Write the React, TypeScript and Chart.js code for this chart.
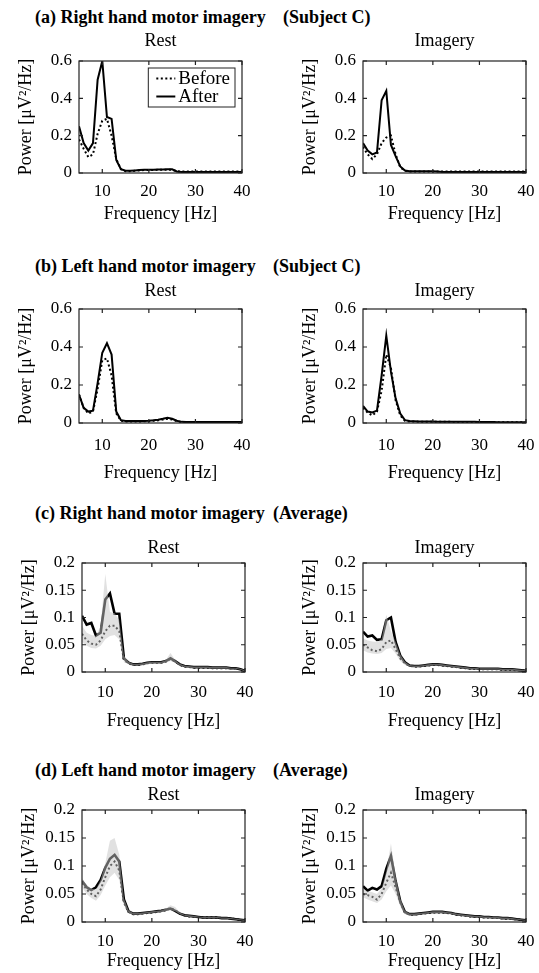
import React, { useEffect, useRef } from "react";
import { Chart, registerables } from "chart.js";

Chart.register(...registerables);

const SERIF = '"Liberation Serif", "Times New Roman", Times, serif';

// ---------------- data ----------------
const FREQ = [5, 6, 7, 8, 9, 10, 11, 12, 13, 14, 15, 16, 17, 18, 19, 20, 21, 22, 23, 24, 25, 26, 27, 28, 29, 30, 31, 32, 33, 34, 35, 36, 37, 38, 39, 40];
const X_TICKS = [10, 20, 30, 40];
const SUBJECT_Y_TICKS = [0, 0.2, 0.4, 0.6];
const AVERAGE_Y_TICKS = [0, 0.05, 0.1, 0.15, 0.2];
const LEGEND_LABELS = ["Before", "After"];
const PANEL_TITLES = ["Rest", "Imagery"];
const SECTION_LABELS = [
  "(a) Right hand motor imagery",
  "(b) Left hand motor imagery",
  "(c) Right hand motor imagery",
  "(d) Left hand motor imagery",
];
const SECTION_GROUPS = ["(Subject C)", "(Subject C)", "(Average)", "(Average)"];
const X_TITLE = "Frequency [Hz]";
const Y_TITLE = "Power [\u03bcV\u00b2/Hz]";

// (a) Right hand, Subject C
const A_REST_AFTER = [0.25, 0.16, 0.12, 0.16, 0.5, 0.6, 0.3, 0.29, 0.07, 0.02, 0.012, 0.012, 0.014, 0.016, 0.018, 0.018, 0.018, 0.019, 0.019, 0.02, 0.02, 0.008, 0.006, 0.005, 0.005, 0.005, 0.005, 0.005, 0.005, 0.005, 0.005, 0.005, 0.005, 0.005, 0.005, 0.005];
const A_REST_BEFORE = [0.18, 0.13, 0.085, 0.1, 0.21, 0.28, 0.29, 0.2, 0.075, 0.02, 0.01, 0.01, 0.012, 0.014, 0.016, 0.016, 0.016, 0.017, 0.018, 0.018, 0.017, 0.01, 0.008, 0.008, 0.008, 0.008, 0.008, 0.008, 0.008, 0.008, 0.008, 0.008, 0.008, 0.008, 0.008, 0.008];
const A_IMAG_AFTER = [0.16, 0.12, 0.1, 0.11, 0.39, 0.44, 0.15, 0.09, 0.035, 0.013, 0.01, 0.01, 0.01, 0.01, 0.01, 0.01, 0.008, 0.006, 0.005, 0.005, 0.005, 0.005, 0.005, 0.005, 0.005, 0.005, 0.005, 0.005, 0.005, 0.005, 0.005, 0.005, 0.005, 0.005, 0.005, 0.005];
const A_IMAG_BEFORE = [0.14, 0.1, 0.075, 0.1, 0.16, 0.19, 0.2, 0.1, 0.03, 0.012, 0.008, 0.008, 0.008, 0.008, 0.008, 0.008, 0.008, 0.008, 0.008, 0.008, 0.008, 0.008, 0.008, 0.008, 0.008, 0.008, 0.008, 0.008, 0.008, 0.008, 0.008, 0.008, 0.008, 0.008, 0.008, 0.008];

// (b) Left hand, Subject C
const B_REST_AFTER = [0.15, 0.08, 0.06, 0.065, 0.21, 0.37, 0.42, 0.36, 0.06, 0.015, 0.01, 0.01, 0.01, 0.01, 0.011, 0.012, 0.014, 0.017, 0.022, 0.028, 0.022, 0.012, 0.006, 0.005, 0.005, 0.005, 0.005, 0.005, 0.005, 0.005, 0.005, 0.005, 0.005, 0.005, 0.005, 0.005];
const B_REST_BEFORE = [0.15, 0.08, 0.05, 0.06, 0.18, 0.33, 0.34, 0.25, 0.05, 0.012, 0.008, 0.008, 0.008, 0.008, 0.009, 0.01, 0.012, 0.014, 0.018, 0.022, 0.018, 0.01, 0.005, 0.004, 0.004, 0.004, 0.004, 0.004, 0.004, 0.004, 0.004, 0.004, 0.004, 0.004, 0.004, 0.004];
const B_IMAG_AFTER = [0.09, 0.06, 0.055, 0.065, 0.25, 0.46, 0.27, 0.13, 0.05, 0.015, 0.01, 0.009, 0.008, 0.008, 0.008, 0.008, 0.007, 0.007, 0.006, 0.006, 0.006, 0.006, 0.006, 0.006, 0.006, 0.005, 0.005, 0.005, 0.005, 0.004, 0.004, 0.004, 0.004, 0.004, 0.004, 0.004];
const B_IMAG_BEFORE = [0.08, 0.055, 0.04, 0.06, 0.17, 0.36, 0.29, 0.12, 0.04, 0.012, 0.008, 0.008, 0.007, 0.007, 0.007, 0.007, 0.006, 0.006, 0.006, 0.006, 0.005, 0.005, 0.005, 0.005, 0.005, 0.005, 0.005, 0.005, 0.005, 0.004, 0.004, 0.004, 0.004, 0.004, 0.004, 0.004];

// (c) Right hand, Average
const C_REST_AFTER = [0.103, 0.087, 0.09, 0.067, 0.072, 0.133, 0.144, 0.107, 0.107, 0.025, 0.017, 0.014, 0.014, 0.015, 0.017, 0.018, 0.018, 0.018, 0.02, 0.025, 0.02, 0.014, 0.011, 0.01, 0.009, 0.009, 0.009, 0.009, 0.008, 0.008, 0.008, 0.008, 0.007, 0.007, 0.005, 0.002];
const C_REST_BEFORE = [0.07, 0.058, 0.052, 0.05, 0.058, 0.075, 0.085, 0.085, 0.075, 0.022, 0.016, 0.013, 0.013, 0.014, 0.016, 0.017, 0.017, 0.017, 0.019, 0.024, 0.019, 0.013, 0.01, 0.009, 0.008, 0.008, 0.008, 0.008, 0.007, 0.007, 0.007, 0.007, 0.007, 0.007, 0.005, 0.002];
const C_REST_LOW = [0.055, 0.048, 0.044, 0.043, 0.048, 0.06, 0.066, 0.068, 0.06, 0.018, 0.014, 0.012, 0.012, 0.013, 0.014, 0.015, 0.015, 0.015, 0.017, 0.02, 0.017, 0.012, 0.009, 0.008, 0.007, 0.007, 0.007, 0.007, 0.006, 0.006, 0.006, 0.006, 0.006, 0.006, 0.004, 0.001];
const C_REST_HIGH = [0.085, 0.072, 0.068, 0.066, 0.085, 0.18, 0.11, 0.108, 0.095, 0.03, 0.019, 0.015, 0.015, 0.016, 0.018, 0.019, 0.019, 0.019, 0.022, 0.035, 0.022, 0.015, 0.012, 0.011, 0.01, 0.01, 0.01, 0.01, 0.009, 0.009, 0.009, 0.009, 0.008, 0.008, 0.006, 0.003];
const C_IMAG_AFTER = [0.074, 0.065, 0.067, 0.059, 0.06, 0.095, 0.1, 0.055, 0.03, 0.018, 0.012, 0.011, 0.011, 0.012, 0.013, 0.014, 0.014, 0.013, 0.012, 0.011, 0.01, 0.009, 0.008, 0.007, 0.007, 0.006, 0.006, 0.006, 0.006, 0.006, 0.005, 0.005, 0.005, 0.004, 0.003, 0.002];
const C_IMAG_BEFORE = [0.05, 0.045, 0.04, 0.038, 0.042, 0.055, 0.058, 0.042, 0.025, 0.016, 0.011, 0.01, 0.01, 0.011, 0.012, 0.013, 0.013, 0.012, 0.011, 0.01, 0.009, 0.008, 0.007, 0.006, 0.006, 0.005, 0.005, 0.005, 0.005, 0.005, 0.004, 0.004, 0.004, 0.003, 0.003, 0.002];
const C_IMAG_LOW = [0.04, 0.036, 0.034, 0.033, 0.035, 0.042, 0.044, 0.034, 0.02, 0.013, 0.01, 0.009, 0.009, 0.01, 0.011, 0.012, 0.012, 0.011, 0.01, 0.009, 0.008, 0.007, 0.006, 0.005, 0.005, 0.004, 0.004, 0.004, 0.004, 0.004, 0.003, 0.003, 0.003, 0.002, 0.002, 0.001];
const C_IMAG_HIGH = [0.062, 0.058, 0.056, 0.055, 0.06, 0.105, 0.075, 0.055, 0.032, 0.019, 0.013, 0.012, 0.012, 0.013, 0.014, 0.015, 0.015, 0.014, 0.013, 0.012, 0.011, 0.01, 0.009, 0.008, 0.008, 0.007, 0.007, 0.007, 0.007, 0.007, 0.006, 0.006, 0.006, 0.005, 0.004, 0.003];

// (d) Left hand, Average
const D_REST_AFTER = [0.073, 0.062, 0.057, 0.062, 0.075, 0.097, 0.113, 0.12, 0.108, 0.04, 0.019, 0.015, 0.015, 0.016, 0.017, 0.018, 0.019, 0.02, 0.022, 0.024, 0.02, 0.015, 0.012, 0.011, 0.01, 0.009, 0.008, 0.008, 0.008, 0.008, 0.007, 0.007, 0.006, 0.005, 0.004, 0.003];
const D_REST_BEFORE = [0.07, 0.058, 0.05, 0.046, 0.058, 0.08, 0.1, 0.108, 0.092, 0.035, 0.018, 0.014, 0.014, 0.015, 0.016, 0.017, 0.018, 0.019, 0.021, 0.025, 0.021, 0.015, 0.012, 0.01, 0.009, 0.009, 0.008, 0.008, 0.008, 0.008, 0.007, 0.007, 0.006, 0.005, 0.004, 0.003];
const D_REST_LOW = [0.062, 0.05, 0.043, 0.038, 0.048, 0.065, 0.08, 0.088, 0.075, 0.03, 0.016, 0.013, 0.013, 0.014, 0.015, 0.016, 0.017, 0.018, 0.019, 0.021, 0.019, 0.014, 0.011, 0.009, 0.008, 0.008, 0.007, 0.007, 0.007, 0.007, 0.006, 0.006, 0.005, 0.004, 0.003, 0.002];
const D_REST_HIGH = [0.078, 0.066, 0.06, 0.058, 0.075, 0.105, 0.145, 0.15, 0.12, 0.042, 0.021, 0.016, 0.016, 0.017, 0.018, 0.019, 0.02, 0.021, 0.024, 0.03, 0.027, 0.017, 0.013, 0.012, 0.011, 0.01, 0.009, 0.009, 0.009, 0.009, 0.008, 0.008, 0.007, 0.006, 0.005, 0.004];
const D_IMAG_AFTER = [0.064, 0.056, 0.061, 0.058, 0.064, 0.095, 0.118, 0.073, 0.037, 0.018, 0.014, 0.014, 0.015, 0.016, 0.017, 0.018, 0.018, 0.018, 0.017, 0.016, 0.014, 0.013, 0.012, 0.011, 0.01, 0.01, 0.009, 0.009, 0.008, 0.008, 0.007, 0.007, 0.006, 0.005, 0.004, 0.003];
const D_IMAG_BEFORE = [0.05, 0.048, 0.045, 0.04, 0.05, 0.07, 0.088, 0.062, 0.035, 0.017, 0.013, 0.013, 0.014, 0.015, 0.016, 0.017, 0.017, 0.017, 0.016, 0.015, 0.013, 0.012, 0.011, 0.01, 0.009, 0.009, 0.008, 0.008, 0.007, 0.007, 0.006, 0.006, 0.005, 0.005, 0.004, 0.003];
const D_IMAG_LOW = [0.044, 0.04, 0.037, 0.034, 0.04, 0.055, 0.065, 0.05, 0.028, 0.014, 0.011, 0.012, 0.013, 0.014, 0.015, 0.016, 0.016, 0.016, 0.015, 0.014, 0.012, 0.011, 0.01, 0.009, 0.008, 0.008, 0.007, 0.007, 0.006, 0.006, 0.005, 0.005, 0.004, 0.004, 0.003, 0.002];
const D_IMAG_HIGH = [0.058, 0.055, 0.053, 0.05, 0.06, 0.09, 0.14, 0.082, 0.042, 0.02, 0.015, 0.015, 0.016, 0.017, 0.018, 0.019, 0.019, 0.019, 0.018, 0.017, 0.015, 0.014, 0.013, 0.012, 0.011, 0.011, 0.01, 0.01, 0.009, 0.009, 0.008, 0.008, 0.007, 0.006, 0.005, 0.004];

// ---------------- layout (page pixels) ----------------
const ROW_LAYOUT = [
  { headerY: 17, titleY: 41, boxTop: 61, boxBottom: 173, tickY: 192, xlabelY: 214, leftBoxL: 79, leftBoxR: 242, groupX: 283 },
  { headerY: 266, titleY: 291, boxTop: 309, boxBottom: 423, tickY: 446, xlabelY: 473, leftBoxL: 79, leftBoxR: 242, groupX: 273 },
  { headerY: 513, titleY: 548, boxTop: 563, boxBottom: 672, tickY: 693, xlabelY: 721, leftBoxL: 82, leftBoxR: 245, groupX: 273 },
  { headerY: 770, titleY: 795, boxTop: 810, boxBottom: 922, tickY: 942, xlabelY: 961, leftBoxL: 82, leftBoxR: 245, groupX: 273 },
];
const RIGHT_BOX_L = 363;
const RIGHT_BOX_R = 526;
const HEADER_X = 35;
const Y_AXIS_W = 68;
const Y_TITLE_GAP = 53;
const PAD_R = 12;
const TITLE_SIZE = 18;
const TICK_SIZE = 17;
const LH = 1.2;

const PANELS = [
  { row: 0, side: 0, after: A_REST_AFTER, before: A_REST_BEFORE, yTicks: SUBJECT_Y_TICKS, legend: true },
  { row: 0, side: 1, after: A_IMAG_AFTER, before: A_IMAG_BEFORE, yTicks: SUBJECT_Y_TICKS },
  { row: 1, side: 0, after: B_REST_AFTER, before: B_REST_BEFORE, yTicks: SUBJECT_Y_TICKS },
  { row: 1, side: 1, after: B_IMAG_AFTER, before: B_IMAG_BEFORE, yTicks: SUBJECT_Y_TICKS },
  { row: 2, side: 0, after: C_REST_AFTER, before: C_REST_BEFORE, low: C_REST_LOW, high: C_REST_HIGH, yTicks: AVERAGE_Y_TICKS },
  { row: 2, side: 1, after: C_IMAG_AFTER, before: C_IMAG_BEFORE, low: C_IMAG_LOW, high: C_IMAG_HIGH, yTicks: AVERAGE_Y_TICKS },
  { row: 3, side: 0, after: D_REST_AFTER, before: D_REST_BEFORE, low: D_REST_LOW, high: D_REST_HIGH, yTicks: AVERAGE_Y_TICKS },
  { row: 3, side: 1, after: D_IMAG_AFTER, before: D_IMAG_BEFORE, low: D_IMAG_LOW, high: D_IMAG_HIGH, yTicks: AVERAGE_Y_TICKS },
];

function geometry(p: any) {
  const L = ROW_LAYOUT[p.row];
  const boxL = p.side === 0 ? L.leftBoxL : RIGHT_BOX_L;
  const boxR = p.side === 0 ? L.leftBoxR : RIGHT_BOX_R;
  const left = boxL - Y_AXIS_W;
  const width = boxR + PAD_R - left;
  const top = Math.round(L.titleY - (TITLE_SIZE * LH) / 2);
  const bottom = Math.round(L.xlabelY + (TITLE_SIZE * LH) / 2);
  return {
    left,
    top,
    width,
    height: bottom - top,
    titlePadB: L.boxTop - top - TITLE_SIZE * LH,
    xAxisH: bottom - L.boxBottom,
    xTickPad: L.tickY - L.boxBottom - (TICK_SIZE * LH) / 2,
    yTitlePad: Y_AXIS_W - Y_TITLE_GAP - (TITLE_SIZE * LH) / 2,
  };
}

const pts = (arr: number[]) => FREQ.map((f, i) => ({ x: f, y: arr[i] }));

const framePlugin = {
  id: "matlabFrame",
  afterDatasetsDraw(chart: any) {
    const { ctx, chartArea: a, scales } = chart;
    ctx.save();
    ctx.strokeStyle = "#222";
    ctx.lineWidth = 1.2;
    ctx.strokeRect(a.left, a.top, a.right - a.left, a.bottom - a.top);
    const tl = 4;
    ctx.beginPath();
    scales.x.ticks.forEach((t: any) => {
      const px = scales.x.getPixelForValue(t.value);
      ctx.moveTo(px, a.bottom);
      ctx.lineTo(px, a.bottom - tl);
      ctx.moveTo(px, a.top);
      ctx.lineTo(px, a.top + tl);
    });
    scales.y.ticks.forEach((t: any) => {
      const py = scales.y.getPixelForValue(t.value);
      ctx.moveTo(a.left, py);
      ctx.lineTo(a.left + tl, py);
      ctx.moveTo(a.right, py);
      ctx.lineTo(a.right - tl, py);
    });
    ctx.stroke();
    ctx.restore();
  },
};

const boxLegendPlugin = {
  id: "boxLegend",
  afterDraw(chart: any, _args: any, opts: any) {
    if (!opts || !opts.show) return;
    const { ctx, chartArea: a } = chart;
    const items = chart.data.datasets.filter((d: any) => LEGEND_LABELS.includes(d.label));
    ctx.save();
    ctx.font = `19px ${SERIF}`;
    const textW = Math.max(...items.map((d: any) => ctx.measureText(d.label).width));
    const lineLen = 19;
    const w = 8 + lineLen + 3 + textW + 5;
    const rowH = 18;
    const h = 3 + rowH * items.length;
    const x0 = a.right - 7 - w;
    const y0 = a.top + 7;
    ctx.fillStyle = "#fff";
    ctx.fillRect(x0, y0, w, h);
    ctx.strokeStyle = "#222";
    ctx.lineWidth = 1;
    ctx.setLineDash([]);
    ctx.strokeRect(x0, y0, w, h);
    items.forEach((d: any, i: number) => {
      const cy = y0 + 1.5 + rowH / 2 + i * rowH;
      ctx.beginPath();
      ctx.strokeStyle = d.borderColor;
      ctx.lineWidth = d.borderWidth;
      ctx.setLineDash(d.borderDash || []);
      ctx.moveTo(x0 + 8, cy);
      ctx.lineTo(x0 + 8 + lineLen, cy);
      ctx.stroke();
      ctx.setLineDash([]);
      ctx.fillStyle = "#000";
      ctx.textBaseline = "middle";
      ctx.textAlign = "left";
      ctx.fillText(d.label, x0 + 8 + lineLen + 3, cy + 1);
    });
    ctx.restore();
  },
};

function buildConfig(p: any) {
  const g = geometry(p);
  const avg = !!p.low;
  const datasets: any[] = [];
  if (p.low && p.high) {
    datasets.push({
      label: "band-high",
      data: pts(p.high),
      borderColor: "rgba(0,0,0,0)",
      borderWidth: 0,
      backgroundColor: "rgba(195,195,195,0.5)",
      pointRadius: 0,
      fill: "+1",
      tension: 0,
    });
    datasets.push({
      label: "band-low",
      data: pts(p.low),
      borderColor: "rgba(0,0,0,0)",
      borderWidth: 0,
      pointRadius: 0,
      fill: false,
      tension: 0,
    });
  }
  datasets.push({
    label: LEGEND_LABELS[0],
    data: pts(p.before),
    borderColor: "#000",
    borderWidth: 2,
    borderDash: [2, 2.5],
    pointRadius: 0,
    fill: false,
    tension: 0,
  });
  datasets.push({
    label: LEGEND_LABELS[1],
    data: pts(p.after),
    borderColor: "#000",
    borderWidth: avg ? 2.6 : 2,
    pointRadius: 0,
    fill: false,
    tension: 0,
  });
  const yTicks = p.yTicks;
  const tickFont = { family: SERIF, size: TICK_SIZE, lineHeight: LH };
  const titleFont = { family: SERIF, size: TITLE_SIZE, lineHeight: LH, weight: "normal" as const };
  return {
    type: "line" as const,
    data: { datasets },
    plugins: [framePlugin, boxLegendPlugin],
    options: {
      animation: false as const,
      responsive: false,
      maintainAspectRatio: false,
      layout: { padding: { left: 0, right: PAD_R, top: 0, bottom: 0 } },
      plugins: {
        legend: { display: false },
        tooltip: { enabled: false },
        title: {
          display: true,
          text: PANEL_TITLES[p.side],
          fullSize: false,
          align: "center" as const,
          color: "#000",
          font: titleFont,
          padding: { top: 0, bottom: g.titlePadB },
        },
        boxLegend: { show: !!p.legend },
      },
      scales: {
        x: {
          type: "linear" as const,
          min: FREQ[0],
          max: X_TICKS[X_TICKS.length - 1],
          afterBuildTicks: (s: any) => {
            s.ticks = X_TICKS.map((v) => ({ value: v }));
          },
          afterFit: (s: any) => {
            s.height = g.xAxisH;
            s.paddingLeft = 0;
            s.paddingRight = 0;
          },
          grid: { display: false, drawTicks: false },
          border: { display: false },
          ticks: {
            padding: g.xTickPad,
            color: "#000",
            font: tickFont,
            maxRotation: 0,
            autoSkip: false,
            callback: (v: any) => String(v),
          },
          title: {
            display: true,
            text: X_TITLE,
            color: "#000",
            font: titleFont,
            padding: { top: 0, bottom: 0 },
          },
        },
        y: {
          type: "linear" as const,
          min: yTicks[0],
          max: yTicks[yTicks.length - 1],
          afterBuildTicks: (s: any) => {
            s.ticks = yTicks.map((v: number) => ({ value: v }));
          },
          afterFit: (s: any) => {
            s.width = Y_AXIS_W;
            s.paddingTop = 0;
            s.paddingBottom = 0;
          },
          grid: { display: false, drawTicks: false },
          border: { display: false },
          ticks: {
            padding: 7,
            color: "#000",
            font: tickFont,
            autoSkip: false,
            callback: (v: any) => String(v),
          },
          title: {
            display: true,
            text: Y_TITLE,
            color: "#000",
            font: titleFont,
            padding: { top: g.yTitlePad, bottom: 0 },
          },
        },
      },
    },
  };
}

function Panel({ p }: { p: any }) {
  const ref = useRef<HTMLCanvasElement | null>(null);
  const g = geometry(p);
  useEffect(() => {
    if (!ref.current) return;
    const chart = new Chart(ref.current, buildConfig(p) as any);
    return () => chart.destroy();
  }, []);
  return (
    <canvas
      ref={ref}
      width={g.width}
      height={g.height}
      style={{ position: "absolute", left: g.left, top: g.top, width: g.width, height: g.height }}
    />
  );
}

export default function App() {
  return (
    <div
      style={{
        position: "absolute",
        left: 0,
        top: 0,
        width: 539,
        height: 973,
        overflow: "hidden",
        background: "#fff",
      }}
    >
      {SECTION_LABELS.map((t, i) => (
        <React.Fragment key={i}>
          <div
            style={{
              position: "absolute",
              left: HEADER_X,
              top: ROW_LAYOUT[i].headerY - 11,
              font: `bold 18px ${SERIF}`,
              lineHeight: "22px",
              whiteSpace: "pre",
              color: "#000",
            }}
          >
            {t}
          </div>
          <div
            style={{
              position: "absolute",
              left: ROW_LAYOUT[i].groupX,
              top: ROW_LAYOUT[i].headerY - 11,
              font: `bold 18px ${SERIF}`,
              lineHeight: "22px",
              whiteSpace: "pre",
              color: "#000",
            }}
          >
            {SECTION_GROUPS[i]}
          </div>
        </React.Fragment>
      ))}
      {PANELS.map((p, i) => (
        <Panel key={i} p={p} />
      ))}
    </div>
  );
}
